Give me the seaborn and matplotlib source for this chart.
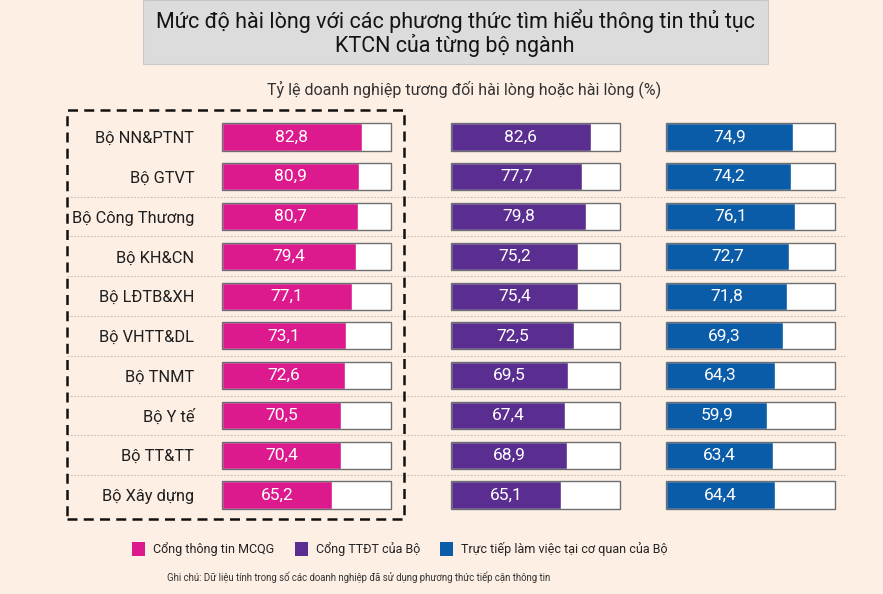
import matplotlib
matplotlib.use("Agg")
from matplotlib import pyplot as plt
from matplotlib.patches import Rectangle, Patch
import seaborn as sns

# data
ministries = ["Bộ NN&PTNT", "Bộ GTVT", "Bộ Công Thương", "Bộ KH&CN", "Bộ LĐTB&XH",
              "Bộ VHTT&DL", "Bộ TNMT", "Bộ Y tế", "Bộ TT&TT", "Bộ Xây dựng"]
mcqg = [82.8, 80.9, 80.7, 79.4, 77.1, 73.1, 72.6, 70.5, 70.4, 65.2]
ttdt = [82.6, 77.7, 79.8, 75.2, 75.4, 72.5, 69.5, 67.4, 68.9, 65.1]
truc_tiep = [74.9, 74.2, 76.1, 72.7, 71.8, 69.3, 64.3, 59.9, 63.4, 64.4]
full = [100] * len(ministries)
series_names = ["Cổng thông tin MCQG", "Cổng TTĐT của Bộ", "Trực tiếp làm việc tại cơ quan của Bộ"]
colors = ["#dc1a8e", "#5a2d90", "#0b5ca8"]

title = "Mức độ hài lòng với các phương thức tìm hiểu thông tin thủ tục\nKTCN của từng bộ ngành"
subtitle = "Tỷ lệ doanh nghiệp tương đối hài lòng hoặc hài lòng (%)"
note = "Ghi chú: Dữ liệu tính trong số các doanh nghiệp đã sử dụng phương thức tiếp cận thông tin"

sns.set_theme(style="white")
plt.rcParams['font.family'] = ['Roboto', 'DejaVu Sans']
bg = "#fdefe4"

W, H = 883, 594
fig = plt.figure(figsize=(W / 100, H / 100), dpi=100, facecolor=bg)

def fx(px):
    return px / W

def fy(px):
    return 1 - px / H

# title box
fig.add_artist(Rectangle((fx(143), fy(64)), fx(625), 64 / H, transform=fig.transFigure,
                         facecolor="#dcdcdc", edgecolor="#c8c8c8", lw=0.8))
fig.text(fx(455), fy(33), title, ha="center", va="center", fontsize=15.5,
         color="#141414", linespacing=1.1)
fig.text(fx(464), fy(89), subtitle, ha="center", va="center", fontsize=11.5, color="#333333")

# dashed box round first panel
fig.add_artist(Rectangle((fx(67), fy(519)), fx(337), 409 / H, transform=fig.transFigure,
                         facecolor="none", edgecolor="#111111", lw=1.8, linestyle=(0, (4, 2.5))))

lefts = [222, 451, 666]
bar_w = 169
top, bottom = 117.1, 514.9
datasets = [mcqg, ttdt, truc_tiep]
axes = []
for k, (vals, col) in enumerate(zip(datasets, colors)):
    ax = fig.add_axes([fx(lefts[k]), fy(bottom), fx(bar_w), (bottom - top) / H])
    ax.set_facecolor("none")
    sns.barplot(x=full, y=ministries, color="white", orient="h", width=0.68,
                saturation=1, ax=ax)
    sns.barplot(x=vals, y=ministries, color=col, orient="h", width=0.68,
                saturation=1, ax=ax)
    ax.bar_label(ax.containers[1], labels=[f"{v:.1f}".replace(".", ",") for v in vals],
                 label_type="center", color="white", fontsize=12.5)
    sns.barplot(x=full, y=ministries, color="#6e6e6e", orient="h", width=0.68,
                fill=False, linewidth=1.0, ax=ax)
    ax.set_xlim(0, 100)
    ax.set_ylim(9.5, -0.5)
    ax.set_xlabel("")
    ax.set_ylabel("")
    ax.set_xticks([])
    for s in ax.spines.values():
        s.set_visible(False)
    if k == 0:
        ax.tick_params(axis="y", length=0, pad=20, labelsize=11.8, labelcolor="#1e1e1e")
    else:
        ax.set_yticks([])
    for p in ax.patches:
        p.set_clip_on(False)
    axes.append(ax)

# faint dotted separators between rows
ax1 = axes[0]
for i in range(1, 9):
    ax1.axhline(i + 0.5, xmin=(67 - 222) / bar_w, xmax=(845 - 222) / bar_w, clip_on=False,
                color="#c9beb5", lw=0.8, linestyle=(0, (1.5, 1.5)), zorder=0)

# legend
handles = [Patch(facecolor=c, edgecolor="none") for c in colors]
fig.legend(handles, series_names, ncol=3, loc="center", bbox_to_anchor=(fx(400), fy(549)),
           frameon=False, fontsize=9, handlelength=1.05, handleheight=1.3,
           handletextpad=0.65, columnspacing=1.6, labelcolor="#222222")

fig.text(fx(167), fy(577), note, ha="left", va="center", fontsize=6.9, color="#333333")

fig.savefig("out.png", dpi=100, facecolor=bg)
plt.close(fig)
